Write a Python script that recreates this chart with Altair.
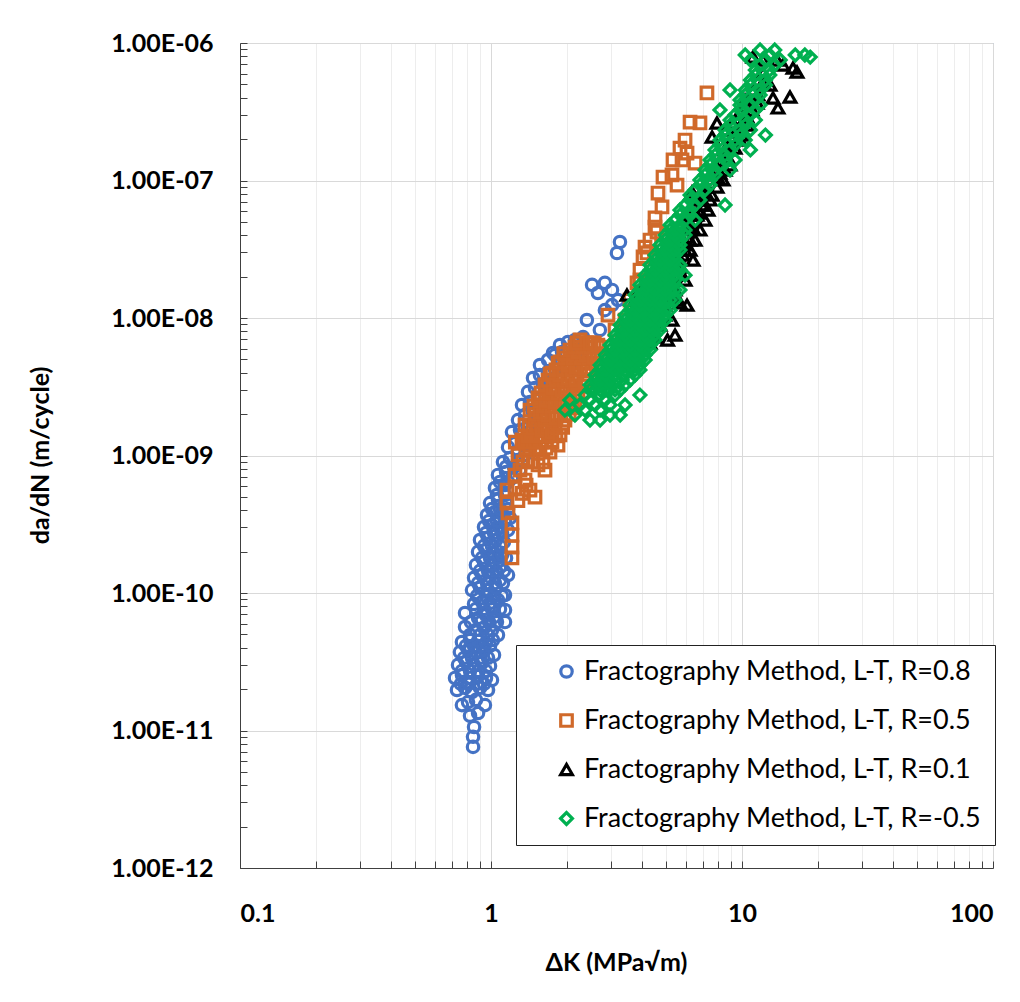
import altair as alt
import pandas as pd

series_names = [
    "Fractography Method, L-T, R=0.8",
    "Fractography Method, L-T, R=0.5",
    "Fractography Method, L-T, R=0.1",
    "Fractography Method, L-T, R=-0.5",
]
colors = ["#4472C4", "#D0692A", "#000000", "#00B050"]
shapes = ["circle", "square", "triangle-up", "diamond"]
stroke_widths = [3.2, 3.2, 3.0, 1.3]
marker_sizes = [130, 140, 165, 125]

# (Delta K [MPa sqrt(m)], da/dN [m/cycle])
r08 = [
    (0.848, 7.6e-12), (0.848, 9.0e-12), (0.856, 1.06e-11), (0.825, 1.28e-11), (0.888, 1.34e-11),
    (0.766, 1.53e-11), (0.810, 1.61e-11), (0.871, 1.67e-11), (0.946, 1.53e-11),
    (0.732, 1.97e-11), (0.788, 2.04e-11), (0.840, 1.9e-11), (0.904, 2.04e-11), (0.973, 1.97e-11),
    (0.759, 2.18e-11), (0.817, 2.18e-11), (0.880, 2.18e-11), (0.938, 2.18e-11),
    (0.719, 2.41e-11), (0.766, 2.53e-11), (0.825, 2.41e-11), (0.888, 2.49e-11), (0.955, 2.41e-11), (1.009, 2.33e-11),
    (0.766, 2.71e-11), (0.825, 2.71e-11), (0.888, 2.71e-11), (0.955, 2.71e-11),
    (0.739, 3.0e-11), (0.795, 3.15e-11), (0.856, 3.0e-11), (0.921, 3.1e-11), (0.991, 2.95e-11),
    (0.781, 3.37e-11), (0.840, 3.37e-11), (0.904, 3.37e-11), (0.973, 3.37e-11),
    (0.752, 3.72e-11), (0.810, 3.85e-11), (0.871, 3.72e-11), (0.938, 3.85e-11), (1.028, 3.54e-11),
    (0.795, 4.12e-11), (0.856, 4.12e-11), (0.921, 4.12e-11), (0.991, 4.12e-11),
    (0.766, 4.4e-11), (0.825, 4.55e-11), (0.888, 4.48e-11), (0.955, 4.33e-11), (1.018, 4.55e-11),
    (0.825, 4.95e-11), (0.904, 4.95e-11), (0.973, 4.95e-11), (1.066, 4.95e-11),
    (0.788, 5.66e-11), (0.788, 7.15e-11), (0.871, 5.38e-11), (0.938, 5.57e-11), (1.009, 5.38e-11), (1.137, 6.15e-11),
    (0.832, 6.15e-11), (0.912, 6.15e-11), (0.982, 6.15e-11), (1.056, 6.15e-11),
    (0.888, 6.58e-11), (0.955, 6.92e-11), (1.028, 6.69e-11), (1.137, 7.52e-11), (1.137, 9.67e-11),
    (0.871, 7.65e-11), (0.938, 7.65e-11), (1.009, 7.65e-11), (1.086, 7.65e-11),
    (0.856, 8.32e-11), (0.921, 8.6e-11), (0.991, 8.46e-11), (1.066, 8.89e-11),
    (0.880, 9.51e-11), (0.955, 9.51e-11), (1.028, 9.51e-11), (1.106, 9.51e-11),
    (0.840, 1.05e-10), (0.904, 1.09e-10), (0.973, 1.05e-10), (1.047, 1.09e-10),
    (0.888, 1.18e-10), (0.964, 1.18e-10), (1.037, 1.18e-10), (1.116, 1.18e-10),
    (0.856, 1.29e-10), (0.921, 1.35e-10), (0.991, 1.31e-10), (1.086, 1.24e-10),
    (0.904, 1.45e-10), (0.973, 1.45e-10), (1.047, 1.45e-10), (1.126, 1.45e-10),
    (0.871, 1.6e-10), (0.938, 1.68e-10), (1.009, 1.6e-10), (1.086, 1.55e-10), (1.169, 1.35e-10),
    (0.921, 1.80e-10), (0.991, 1.80e-10), (1.066, 1.80e-10), (1.148, 1.80e-10),
    (0.888, 1.99e-10), (0.955, 2.05e-10), (1.028, 1.95e-10), (1.106, 1.89e-10),
    (0.938, 2.20e-10), (1.009, 2.20e-10), (1.086, 2.20e-10),
    (0.904, 2.43e-10), (0.973, 2.51e-10), (1.047, 2.43e-10), (1.126, 2.35e-10),
    (0.955, 2.73e-10), (1.028, 2.73e-10), (1.106, 2.73e-10),
    (0.938, 3.02e-10), (1.009, 3.12e-10), (1.086, 2.97e-10), (1.169, 2.87e-10),
    (0.982, 3.34e-10), (1.056, 3.34e-10), (1.137, 3.34e-10),
    (0.964, 3.69e-10), (1.037, 3.88e-10), (1.116, 3.69e-10), (1.190, 3.51e-10),
    (1.009, 4.08e-10), (1.086, 4.08e-10), (1.169, 4.08e-10),
    (0.991, 4.51e-10), (1.066, 4.75e-10), (1.148, 4.51e-10), (1.056, 5.16e-10), (1.137, 5.16e-10),
    (1.037, 5.8e-10), (1.137, 6.1e-10), (1.086, 6.42e-10), (1.169, 6.42e-10),
    (1.066, 7.22e-10), (1.148, 7.59e-10), (1.212, 6.86e-10), (1.305, 7.84e-10),
    (1.148, 8.25e-10), (1.235, 8.25e-10),
    (1.116, 8.97e-10), (1.190, 9.59e-10), (1.281, 9.27e-10), (1.366, 1.01e-9),
    (1.169, 1.15e-9), (1.246, 1.23e-9), (1.341, 1.19e-9), (1.430, 1.30e-9),
    (1.212, 1.48e-9), (1.305, 1.53e-9), (1.404, 1.58e-9), (1.497, 1.67e-9),
    (1.281, 1.81e-9), (1.366, 1.97e-9), (1.470, 2.07e-9), (1.567, 2.22e-9),
    (1.329, 2.33e-9), (1.430, 2.45e-9), (1.539, 2.62e-9), (1.641, 2.75e-9),
    (1.404, 2.9e-9), (1.497, 3.1e-9), (1.611, 3.31e-9), (1.718, 3.42e-9),
    (1.470, 3.66e-9), (1.567, 3.85e-9), (1.687, 4.05e-9), (1.798, 4.26e-9),
    (1.567, 4.55e-9), (1.687, 4.95e-9), (1.798, 5.38e-9), (1.918, 5.66e-9),
    (1.766, 5.57e-9), (1.883, 6.36e-9), (2.027, 6.69e-9), (2.162, 6.92e-9), (2.327, 7.27e-9), (2.410, 9.67e-9),
    (2.263, 5.85e-9), (2.482, 6.15e-9), (2.715, 8.18e-9), (2.843, 1.14e-8), (3.035, 1.24e-8),
    (2.528, 1.74e-8), (2.666, 1.52e-8), (2.843, 1.80e-8), (3.035, 1.60e-8), (3.205, 1.35e-8),
    (3.264, 3.57e-8), (3.176, 2.97e-8), (2.064, 4.55e-9), (2.222, 4.95e-9),
]

r05 = [
    (1.158, 5.61e-10), (1.158, 4.51e-10), (1.169, 3.82e-10), (1.212, 3.23e-10), (1.212, 2.64e-10),
    (1.212, 2.16e-10), (1.212, 1.80e-10),
    (1.246, 7.2e-10), (1.246, 5.8e-10), (1.28, 4.7e-10), (1.33, 5.3e-10), (1.38, 6.1e-10), (1.25, 1.25e-9),
    (1.305, 7.84e-10), (1.366, 6.63e-10), (1.430, 5.61e-10), (1.497, 4.99e-10),
    (1.341, 8.97e-10), (1.470, 8.97e-10), (1.611, 8.97e-10),
    (1.281, 1.01e-9), (1.404, 9.27e-10), (1.539, 8.53e-10), (1.641, 7.84e-10),
    (1.378, 1.13e-9), (1.511, 1.13e-9), (1.656, 1.13e-9),
    (1.329, 1.30e-9), (1.430, 1.19e-9), (1.567, 1.13e-9), (1.718, 1.06e-9), (1.849, 1.19e-9),
    (1.36, 1.25e-9), (1.47, 1.25e-9), (1.60, 1.25e-9), (1.75, 1.25e-9),
    (1.404, 1.39e-9), (1.539, 1.39e-9), (1.687, 1.39e-9), (1.815, 1.39e-9),
    (1.42, 1.6e-9), (1.53, 1.6e-9), (1.66, 1.6e-9), (1.80, 1.6e-9), (1.93, 1.6e-9),
    (1.366, 1.67e-9), (1.470, 1.58e-9), (1.597, 1.53e-9), (1.750, 1.48e-9), (1.883, 1.41e-9),
    (1.497, 1.81e-9), (1.641, 1.81e-9),
    (1.50, 2.0e-9), (1.62, 2.0e-9), (1.76, 2.0e-9), (1.90, 2.0e-9), (2.05, 2.0e-9),
    (1.430, 2.14e-9), (1.567, 2.07e-9), (1.687, 1.97e-9), (1.815, 1.87e-9), (1.971, 1.81e-9),
    (1.483, 2.29e-9), (1.611, 2.29e-9), (1.750, 2.29e-9), (1.883, 2.29e-9),
    (1.57, 2.5e-9), (1.70, 2.5e-9), (1.85, 2.5e-9), (2.00, 2.5e-9), (2.16, 2.5e-9),
    (1.539, 2.62e-9), (1.656, 2.53e-9), (1.798, 2.45e-9), (1.935, 2.33e-9), (2.102, 2.22e-9),
    (1.582, 2.85e-9), (1.718, 2.85e-9), (1.849, 2.85e-9), (1.990, 2.85e-9), (2.142, 2.85e-9),
    (1.65, 3.2e-9), (1.79, 3.2e-9), (1.95, 3.2e-9), (2.12, 3.2e-9), (2.30, 3.2e-9),
    (1.641, 3.26e-9), (1.766, 3.10e-9), (1.918, 3.00e-9), (2.064, 2.90e-9), (2.222, 2.75e-9),
    (1.687, 3.54e-9), (1.815, 3.54e-9), (1.953, 3.54e-9), (2.102, 3.54e-9),
    (1.72, 3.9e-9), (1.87, 3.9e-9), (2.03, 3.9e-9), (2.20, 3.9e-9), (2.40, 3.9e-9),
    (1.750, 3.98e-9), (1.883, 3.85e-9), (2.027, 3.66e-9), (2.180, 3.54e-9), (2.369, 3.42e-9),
    (1.815, 4.19e-9), (1.953, 4.19e-9), (2.102, 4.19e-9), (2.263, 4.19e-9), (2.435, 4.19e-9),
    (1.85, 4.7e-9), (2.00, 4.7e-9), (2.16, 4.7e-9), (2.34, 4.7e-9), (2.52, 4.7e-9),
    (1.883, 4.79e-9), (2.027, 4.55e-9), (2.180, 4.40e-9), (2.369, 4.33e-9), (2.528, 4.19e-9),
    (1.971, 5.12e-9), (2.121, 5.12e-9), (2.284, 5.12e-9), (2.457, 5.12e-9),
    (1.95, 5.5e-9), (2.12, 5.5e-9), (2.30, 5.5e-9), (2.48, 5.5e-9), (2.65, 5.5e-9),
    (2.064, 5.85e-9), (2.222, 5.66e-9), (2.390, 5.38e-9), (2.573, 5.20e-9), (2.715, 6.15e-9),
    (2.161, 6.15e-9), (2.327, 6.15e-9), (2.503, 6.15e-9),
    (2.20, 6.6e-9), (2.40, 6.6e-9), (2.58, 6.6e-9),
    (2.263, 6.92e-9), (2.482, 6.58e-9), (2.666, 6.36e-9),
    (2.925, 1.05e-8), (3.42, 9.67e-9), (3.58, 1.35e-8), (3.12, 8.18e-9),
    (3.924, 1.89e-8), (3.924, 2.23e-8), (3.817, 1.80e-8), (4.034, 2.78e-8), (4.184, 2.97e-8),
    (4.301, 3.69e-8), (4.108, 3.28e-8), (4.585, 4.22e-8), (4.502, 5.34e-8), (4.502, 4.59e-8),
    (4.628, 8.11e-8), (4.801, 6.42e-8), (4.845, 1.06e-7), (5.262, 1.10e-7), (5.510, 9.27e-8),
    (5.311, 1.41e-7), (5.770, 1.41e-7), (6.500, 1.34e-7), (5.662, 1.72e-7), (6.040, 1.58e-7),
    (5.930, 1.97e-7), (6.210, 2.66e-7), (6.800, 2.62e-7), (7.250, 4.33e-7),
]

r01 = [
    (3.48, 1.47e-8), (3.75, 1.35e-8), (3.92, 1.60e-8), (5.26, 9.67e-9), (5.41, 7.52e-9), (5.05, 6.92e-9),
    (4.034, 7.78e-9), (4.301, 6.58e-9), (4.502, 7.27e-9), (4.713, 8.89e-9), (4.933, 1.05e-8),
    (4.30, 7.52e-9), (4.50, 8.89e-9), (4.71, 1.14e-8), (4.94, 1.55e-8), (5.26, 1.95e-8),
    (5.56, 2.56e-8), (5.93, 3.40e-8), (6.21, 4.51e-8), (6.50, 5.61e-8), (7.32, 6.10e-8),
    (5.166, 1.35e-8), (4.713, 1.42e-8), (5.166, 1.68e-8), (5.510, 1.35e-8), (6.040, 1.24e-8),
    (5.662, 1.29e-8), (5.662, 2.35e-8), (5.930, 1.89e-8), (5.409, 2.05e-8), (6.040, 3.88e-8),
    (6.380, 2.64e-8), (6.210, 3.12e-8), (6.500, 3.69e-8), (6.800, 4.37e-8), (6.800, 5.80e-8),
    (7.120, 5.16e-8), (6.320, 8.25e-8), (6.680, 7.22e-8), (7.250, 8.97e-8), (7.460, 7.22e-8),
    (5.93, 3.12e-8), (6.21, 3.69e-8), (6.38, 4.51e-8), (6.62, 5.61e-8), (6.93, 6.63e-8),
    (6.21, 5.61e-8), (6.50, 7.22e-8), (6.99, 8.25e-8), (6.09, 4.75e-8), (5.77, 3.69e-8),
    (5.56, 2.82e-8), (5.26, 2.31e-8), (5.07, 1.74e-8), (4.85, 1.35e-8),
    (7.12, 9.27e-8), (7.60, 7.84e-8), (8.03, 1.04e-7), (8.56, 1.19e-7), (8.80, 1.46e-7),
    (9.38, 1.72e-7), (10.0, 2.14e-7), (10.56, 2.53e-7), (10.96, 3.26e-7), (11.58, 4.19e-7),
    (7.81, 1.30e-7), (8.56, 1.67e-7), (9.38, 2.25e-7), (10.28, 2.85e-7),
    (7.600, 1.10e-7), (8.170, 1.13e-7), (7.950, 8.97e-8), (8.400, 1.01e-7), (8.960, 1.30e-7),
    (9.210, 2.07e-7), (7.600, 2.07e-7), (7.950, 2.62e-7), (8.560, 2.33e-7), (9.210, 2.62e-7),
    (9.820, 3.15e-7), (10.47, 2.90e-7), (10.28, 3.85e-7), (11.06, 4.55e-7), (11.48, 3.66e-7),
    (12.13, 5.20e-7), (12.13, 6.05e-7), (12.93, 4.95e-7), (13.29, 3.98e-7), (13.91, 3.37e-7),
    (15.53, 4.05e-7), (15.97, 6.58e-7), (16.56, 6.15e-7), (14.57, 6.92e-7), (13.79, 7.52e-7),
    (11.06, 7.91e-7), (12.13, 7.52e-7), (9.820, 1.97e-7), (8.800, 1.67e-7), (8.320, 1.41e-7),
    (7.120, 6.63e-8), (5.820, 2.87e-8), (5.409, 1.60e-8), (4.933, 1.24e-8),
]

rm05 = [
    (2.48, 1.81e-9), (2.72, 1.81e-9),
    (2.16, 1.97e-9), (2.98, 1.97e-9), (3.27, 1.97e-9),
    (1.97, 2.14e-9), (2.37, 2.14e-9), (2.72, 2.14e-9),
    (2.26, 2.33e-9), (2.60, 2.33e-9), (2.98, 2.33e-9), (3.42, 2.33e-9),
    (2.06, 2.53e-9), (2.48, 2.53e-9), (2.85, 2.53e-9),
    (2.37, 2.75e-9), (2.72, 2.75e-9), (3.12, 2.75e-9), (3.92, 2.75e-9),
    (2.48, 3.00e-9), (2.72, 3.00e-9), (2.98, 3.00e-9), (3.27, 3.00e-9),
    (2.60, 3.00e-9), (2.85, 3.00e-9), (3.12, 3.00e-9),
    (2.48, 3.26e-9), (2.72, 3.26e-9), (2.98, 3.26e-9), (3.42, 3.26e-9),
    (2.60, 3.54e-9), (2.85, 3.54e-9), (3.12, 3.54e-9), (3.58, 3.54e-9),
    (2.72, 3.54e-9), (2.98, 3.54e-9), (3.33, 3.54e-9),
    (2.60, 3.85e-9), (2.85, 3.85e-9), (3.12, 3.85e-9), (3.42, 3.85e-9), (3.75, 3.85e-9),
    (2.72, 4.19e-9), (2.98, 4.19e-9), (3.27, 4.19e-9), (3.58, 4.19e-9), (3.92, 4.19e-9),
    (2.85, 4.19e-9), (3.12, 4.19e-9), (3.42, 4.19e-9), (3.75, 4.19e-9),
    (2.72, 4.55e-9), (2.98, 4.55e-9), (3.27, 4.55e-9), (3.58, 4.55e-9), (3.92, 4.55e-9),
    (2.85, 4.95e-9), (3.12, 4.95e-9), (3.42, 4.95e-9), (3.75, 4.95e-9), (4.11, 4.95e-9),
    (2.98, 4.95e-9), (3.27, 4.95e-9), (3.58, 4.95e-9), (3.92, 4.95e-9),
    (2.85, 5.38e-9), (3.12, 5.38e-9), (3.42, 5.38e-9), (3.75, 5.38e-9), (4.11, 5.38e-9),
    (2.98, 5.85e-9), (3.27, 5.85e-9), (3.58, 5.85e-9), (3.92, 5.85e-9), (4.30, 5.85e-9),
    (3.12, 5.85e-9), (3.42, 5.85e-9), (3.75, 5.85e-9), (4.11, 5.85e-9),
    (2.98, 6.36e-9), (3.27, 6.36e-9), (3.58, 6.36e-9), (3.92, 6.36e-9), (4.30, 6.36e-9),
    (3.12, 6.92e-9), (3.42, 6.92e-9), (3.75, 6.92e-9), (4.11, 6.92e-9), (4.50, 6.92e-9),
    (3.27, 6.92e-9), (3.58, 6.92e-9), (3.92, 6.92e-9), (4.30, 6.92e-9),
    (3.12, 7.52e-9), (3.42, 7.52e-9), (3.75, 7.52e-9), (4.11, 7.52e-9), (4.50, 7.52e-9),
    (3.27, 8.18e-9), (3.58, 8.18e-9), (3.92, 8.18e-9), (4.30, 8.18e-9), (4.71, 8.18e-9),
    (3.42, 8.18e-9), (3.75, 8.18e-9), (4.11, 8.18e-9), (4.50, 8.18e-9),
    (3.27, 8.89e-9), (3.58, 8.89e-9), (3.92, 8.89e-9), (4.30, 8.89e-9), (4.71, 8.89e-9),
    (3.42, 9.67e-9), (3.75, 9.67e-9), (4.11, 9.67e-9), (4.50, 9.67e-9), (4.94, 9.67e-9),
    (3.58, 9.67e-9), (3.92, 9.67e-9), (4.30, 9.67e-9), (4.71, 9.67e-9),
    (3.42, 1.05e-8), (3.75, 1.05e-8), (4.11, 1.05e-8), (4.50, 1.05e-8), (4.94, 1.05e-8),
    (3.58, 1.14e-8), (3.92, 1.14e-8), (4.30, 1.14e-8), (4.71, 1.14e-8), (5.17, 1.14e-8),
    (3.75, 1.14e-8), (4.11, 1.14e-8), (4.50, 1.14e-8), (4.94, 1.14e-8),
    (3.58, 1.24e-8), (3.92, 1.24e-8), (4.30, 1.24e-8), (4.71, 1.24e-8),
    (3.75, 1.35e-8), (4.11, 1.35e-8), (4.50, 1.35e-8), (4.94, 1.35e-8), (5.41, 1.35e-8),
    (3.92, 1.35e-8), (4.30, 1.35e-8), (4.71, 1.35e-8), (5.17, 1.35e-8),
    (3.75, 1.47e-8), (4.11, 1.47e-8), (4.50, 1.47e-8), (4.94, 1.47e-8),
    (3.92, 1.60e-8), (4.30, 1.60e-8), (4.71, 1.60e-8), (5.17, 1.60e-8), (5.66, 1.60e-8),
    (4.11, 1.60e-8), (4.50, 1.60e-8), (4.94, 1.60e-8), (5.41, 1.60e-8),
    (3.92, 1.74e-8), (4.30, 1.74e-8), (4.71, 1.74e-8), (5.17, 1.74e-8),
    (4.11, 1.89e-8), (4.50, 1.89e-8), (4.94, 1.89e-8), (5.41, 1.89e-8),
    (4.30, 1.89e-8), (4.71, 1.89e-8), (5.17, 1.89e-8),
    (4.11, 2.05e-8), (4.50, 2.05e-8), (4.94, 2.05e-8), (5.41, 2.05e-8), (5.93, 2.05e-8),
    (4.30, 2.23e-8), (4.71, 2.23e-8), (5.17, 2.23e-8), (5.66, 2.23e-8),
    (4.50, 2.23e-8), (4.94, 2.23e-8), (5.41, 2.23e-8),
    (4.30, 2.43e-8), (4.71, 2.43e-8), (5.17, 2.43e-8), (5.66, 2.43e-8),
    (4.50, 2.64e-8), (4.94, 2.64e-8), (5.41, 2.64e-8),
    (4.71, 2.64e-8), (5.17, 2.64e-8),
    (4.50, 2.87e-8), (4.94, 2.87e-8), (5.41, 2.87e-8),
    (4.71, 3.12e-8), (5.17, 3.12e-8), (5.66, 3.12e-8),
    (4.94, 3.12e-8), (5.41, 3.12e-8),
    (4.71, 3.40e-8), (5.17, 3.40e-8), (5.66, 3.40e-8),
    (4.94, 3.69e-8), (5.41, 3.69e-8),
    (5.17, 3.69e-8), (5.66, 3.69e-8),
    (4.94, 4.01e-8), (5.41, 4.01e-8), (5.93, 4.01e-8),
    (5.17, 4.37e-8), (5.66, 4.37e-8),
    (5.41, 4.37e-8), (5.93, 4.37e-8),
    (5.17, 4.75e-8), (5.66, 4.75e-8),
    (5.41, 5.16e-8), (5.93, 5.16e-8), (6.50, 5.16e-8),
    (5.66, 5.61e-8), (6.21, 5.61e-8),
    (5.66, 6.10e-8), (6.21, 6.10e-8),
    (5.93, 6.63e-8), (6.50, 6.63e-8), (8.56, 6.63e-8),
    (6.21, 7.22e-8), (6.80, 7.22e-8),
    (6.21, 7.84e-8),
    (6.50, 8.53e-8), (7.12, 8.53e-8),
    (6.80, 9.27e-8), (7.46, 9.27e-8),
    (6.80, 1.01e-7), (7.46, 1.01e-7),
    (7.12, 1.10e-7), (7.81, 1.10e-7),
    (7.12, 1.19e-7), (7.81, 1.19e-7), (8.96, 1.19e-7),
    (7.46, 1.30e-7), (8.17, 1.30e-7),
    (7.46, 1.41e-7), (8.56, 1.41e-7), (9.38, 1.41e-7),
    (7.81, 1.53e-7), (8.56, 1.53e-7),
    (7.81, 1.67e-7), (8.96, 1.67e-7), (10.8, 1.67e-7),
    (8.17, 1.81e-7), (9.38, 1.81e-7),
    (8.17, 1.97e-7), (9.38, 1.97e-7), (10.3, 1.97e-7),
    (8.56, 2.14e-7), (9.82, 2.14e-7), (12.4, 2.14e-7),
    (8.56, 2.33e-7), (9.82, 2.33e-7), (10.8, 2.33e-7),
    (8.96, 2.53e-7), (10.3, 2.53e-7),
    (8.96, 2.75e-7), (10.3, 2.75e-7), (11.3, 2.75e-7),
    (9.38, 3.00e-7), (10.8, 3.00e-7),
    (8.17, 3.26e-7), (9.82, 3.26e-7), (11.3, 3.26e-7),
    (9.82, 3.54e-7), (10.8, 3.54e-7), (11.8, 3.54e-7),
    (9.82, 3.85e-7), (11.3, 3.85e-7),
    (10.3, 4.19e-7), (11.8, 4.19e-7),
    (8.96, 4.55e-7), (10.3, 4.55e-7), (11.8, 4.55e-7),
    (10.8, 4.95e-7), (12.4, 4.95e-7),
    (10.8, 5.38e-7), (12.4, 5.38e-7),
    (11.3, 5.85e-7), (12.9, 5.85e-7),
    (11.3, 6.36e-7), (12.9, 6.36e-7),
    (11.8, 6.92e-7), (13.5, 6.92e-7),
    (10.8, 7.52e-7), (12.4, 7.52e-7), (14.2, 7.52e-7),
    (10.3, 8.18e-7), (12.9, 8.18e-7), (16.3, 8.18e-7), (17.8, 8.18e-7), (18.7, 7.9e-7),
    (11.8, 8.89e-7), (13.5, 8.89e-7),
]

all_series = [r08, r05, r01, rm05]
rows = []
idx = 0
for name, pts in zip(series_names, all_series):
    for dk, dadn in pts:
        rows.append({"series": name, "dk": dk, "dadn": dadn, "idx": idx})
        idx += 1
df = pd.DataFrame(rows)

x_all = [round(m * 10.0 ** e, 6) for e in (-1, 0, 1) for m in range(1, 10)] + [100]
y_major = [1e-12, 1e-11, 1e-10, 1e-9, 1e-8, 1e-7, 1e-6]
y_all = [m * 10.0 ** e for e in range(-12, -6) for m in range(1, 10)] + [1e-6]

x_scale = alt.Scale(type="log", domain=[0.1, 100], nice=False)
y_scale = alt.Scale(type="log", domain=[1e-12, 1e-6], nice=False)

is_decade = "abs(log(datum.value)/LN10 - round(log(datum.value)/LN10)) < 0.001"

legend = alt.Legend(
    orient="none", legendX=276, legendY=602,
    labelFont="Lato", labelFontSize=27, labelColor="#000000", labelLimit=800,
    labelOffset=4, symbolOffset=24, symbolSize=70,
    padding=13, rowPadding=21, strokeColor="#222222", fillColor="#FFFFFF",
)

base = alt.Chart(df)

points = base.mark_point(filled=False, opacity=1).encode(
    x=alt.X("dk:Q", scale=x_scale, axis=alt.Axis(
        orient="bottom", values=x_all, format="~g",
        labelExpr=f"{is_decade} ? datum.label : ''",
        labelFont="Lato", labelFontWeight="bold", labelFontSize=25, labelColor="#000000",
        labelPadding=33, ticks=False, domainColor="#404040", domainWidth=1,
        grid=True,
        gridColor={"condition": {"test": is_decade, "value": "#D9D9D9"}, "value": "#EDEDED"},
        title="ΔK (MPa√m)", titleFont="Lato", titleFontWeight="bold", titleFontSize=25,
        titleColor="#000000", titleX=376, titleY=94, titleBaseline="middle",
    )),
    y=alt.Y("dadn:Q", scale=y_scale, axis=alt.Axis(
        orient="left", values=y_major,
        labelExpr="'1.00E-' + (round(-log(datum.value)/LN10) < 10 ? '0' : '') + round(-log(datum.value)/LN10)",
        labelFont="Lato", labelFontWeight="bold", labelFontSize=25, labelColor="#000000",
        labelPadding=27, ticks=False, domainColor="#404040", domainWidth=1,
        grid=True, gridColor="#D9D9D9",
        title="da/dN (m/cycle)", titleFont="Lato", titleFontWeight="bold", titleFontSize=25,
        titleColor="#000000", titleX=-200, titleY=412, titleBaseline="middle", titleAngle=270,
    )),
    color=alt.Color("series:N", scale=alt.Scale(domain=series_names, range=colors), legend=legend, title=None),
    shape=alt.Shape("series:N", scale=alt.Scale(domain=series_names, range=shapes), legend=legend, title=None),
    strokeWidth=alt.StrokeWidth("series:N", scale=alt.Scale(domain=series_names, range=stroke_widths), legend=legend, title=None),
    size=alt.Size("series:N", scale=alt.Scale(domain=series_names, range=marker_sizes), legend=None),
    order=alt.Order("idx:Q"),
)

ticks_layer = base.mark_point(opacity=0).encode(
    x=alt.X("dk:Q", scale=x_scale, axis=alt.Axis(
        orient="bottom", values=x_all, offset=-7, tickSize=7, tickColor="#404040",
        labels=False, domain=False, grid=False, title="")),
    y=alt.Y("dadn:Q", scale=y_scale, axis=alt.Axis(
        orient="left", values=y_all, offset=-7, tickSize=7, tickColor="#404040",
        labels=False, domain=False, grid=False, title="")),
)

chart = alt.layer(points, ticks_layer).resolve_axis(
    x="independent", y="independent"
).properties(
    width=753, height=825,
    padding={"left": 240, "top": 43, "right": 27, "bottom": 134},
    autosize=alt.AutoSizeParams(type="none"),
    background="#FFFFFF",
).configure_view(stroke="#8FB0DA", strokeWidth=1)

chart.save("out.html", embed_options={"renderer": "svg", "actions": False})
